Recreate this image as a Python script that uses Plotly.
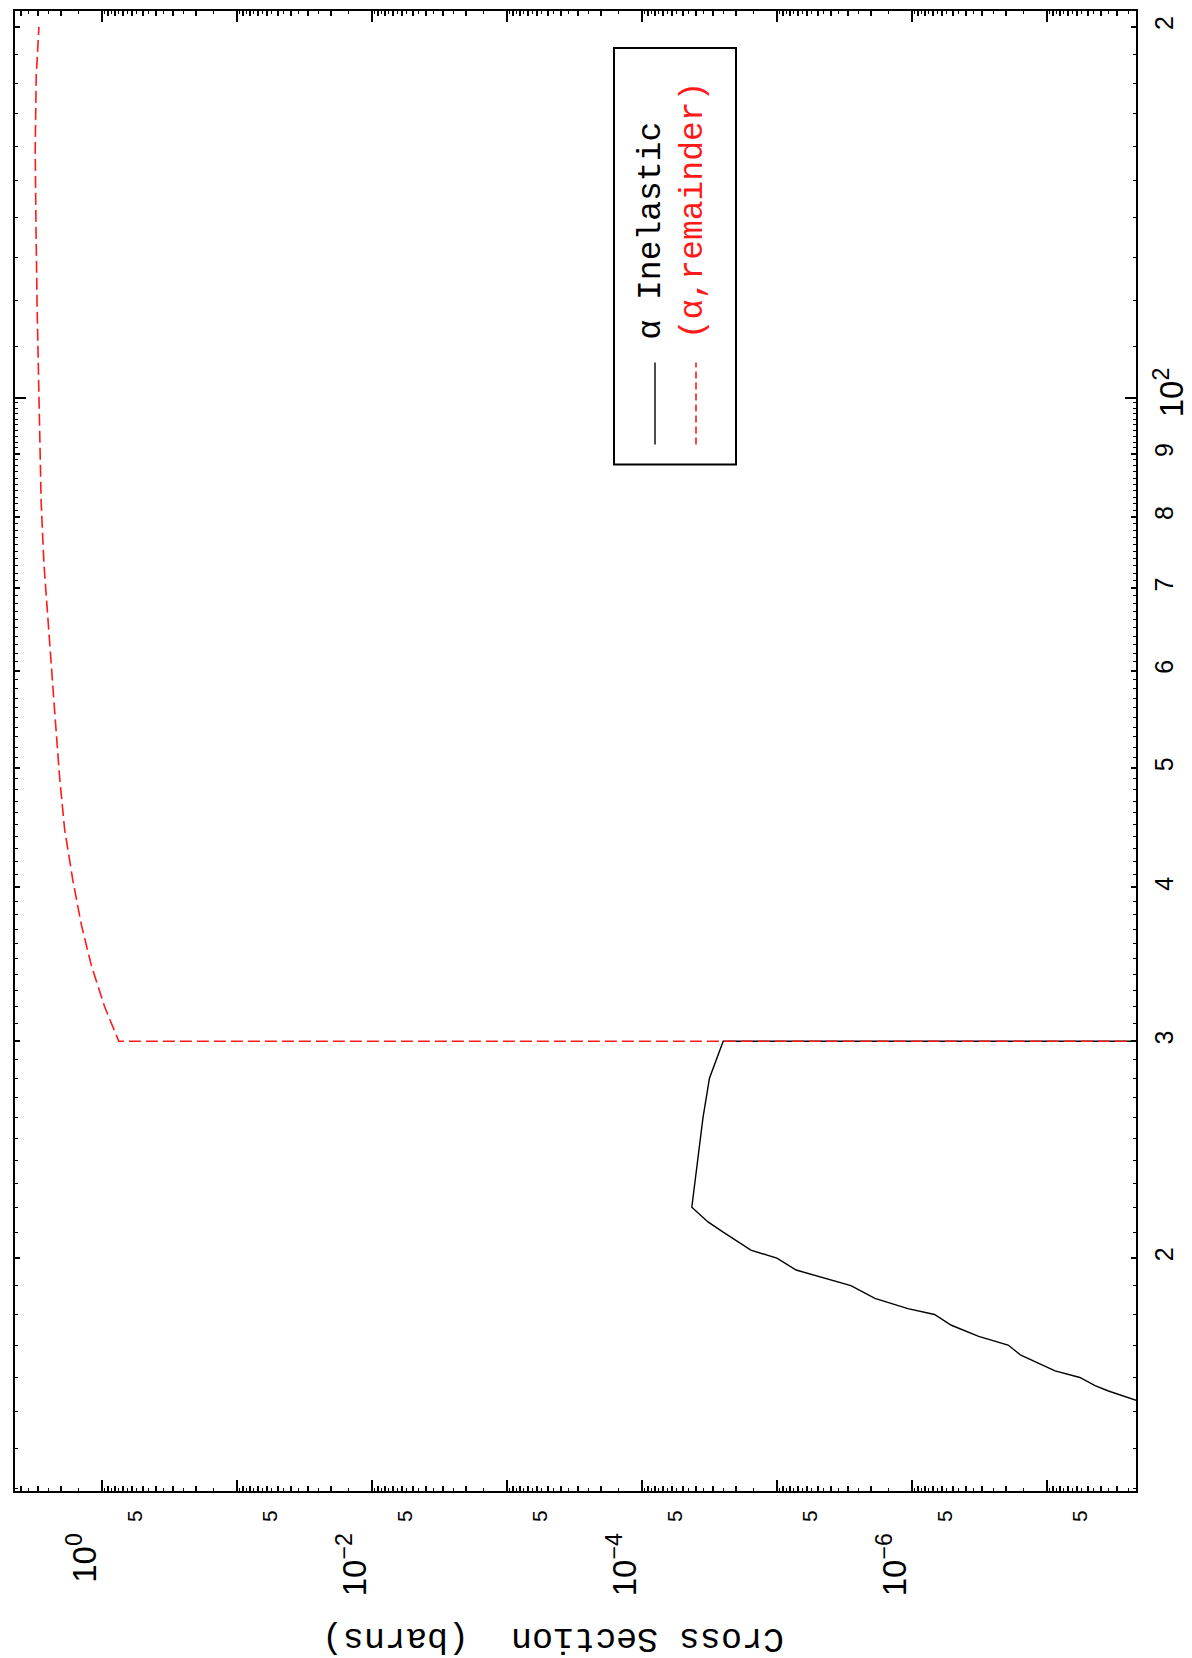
import plotly.graph_objects as go

# ---------------- data ----------------
# alpha inelastic: energy (MeV) and cross section (barns)
inel_energy = [15.0, 15.34, 15.45, 15.6, 15.76, 16.0, 16.2, 16.43, 16.68, 17.0,
               17.28, 17.64, 18.0, 18.2, 18.55, 19.0, 19.16, 19.56, 20.0, 20.3,
               21.0, 21.4, 22.0, 24.0, 26.0, 28.0, 30.0, 30.0]
inel_xs = [1.2e-8, 2.2e-8, 2.6e-8, 3.5e-8, 4.4e-8, 5.7e-8, 8.7e-8, 1.17e-7, 1.56e-7, 1.94e-7,
           3.2e-7, 5.1e-7, 6.8e-7, 1.07e-6, 1.88e-6, 2.83e-6, 3.7e-6, 7.2e-6, 1.0e-5, 1.56e-5,
           2.5e-5, 3.24e-5, 4.27e-5, 3.85e-5, 3.53e-5, 3.16e-5, 2.5e-5, 1e-12]

# (alpha, remainder)
rem_energy = [30.0, 30.0, 32.0, 34.6, 37.3, 40.5, 44.6, 49.2, 55.6, 63.0,
              73.3, 82.2, 101.0, 118.0, 138.0, 159.0, 182.0, 200.0]
rem_xs = [1e-12, 0.75, 0.955, 1.20, 1.42, 1.64, 1.89, 2.06, 2.24, 2.44,
          2.69, 2.82, 2.94, 3.02, 3.08, 3.12, 3.07, 2.93]

# ---------------- ticks ----------------
xs_decades = [1, 1e-1, 1e-2, 1e-3, 1e-4, 1e-5, 1e-6, 1e-7]
xs_decade_text = ["10<sup>0</sup>", "", "10<sup>\u22122</sup>", "", "10<sup>\u22124</sup>", "",
                  "10<sup>\u22126</sup>", ""]
xs_exponents = [0, -1, -2, -3, -4, -5, -6, -7, -8]
xs_int_mant = [2, 3, 4, 5, 6, 7, 8, 9]
xs_half_mant = [1.5, 2.5, 3.5, 4.5, 5.5, 6.5, 7.5, 8.5, 9.5]

x_label_vals, x_label_text = [], []
for e in xs_exponents:
    for m in xs_int_mant:
        x_label_vals.append(m * 10.0 ** e)
        x_label_text.append("5" if m == 5 else "")
x_minor_vals = [m * 10.0 ** e for e in xs_exponents for m in xs_half_mant]

e_label_vals = [20, 30, 40, 50, 60, 70, 80, 90, 200]
e_label_text = ["2", "3", "4", "5", "6", "7", "8", "9", "2"]
e_minor_vals = [v for v in range(13, 100) if v % 10 != 0] + list(range(110, 200, 10))
e_decade_vals = [100]
e_decade_text = ["10<sup>2</sup>"]

X_RANGE = [0.644, -7.66]
Y_RANGE = [1.1119, 2.3139]

fig = go.Figure()
fig.add_trace(go.Scatter(x=inel_xs, y=inel_energy, mode="lines", xaxis="x", yaxis="y",
                         line=dict(color="black", width=1.4), showlegend=False,
                         name="\u03b1 Inelastic"))
fig.add_trace(go.Scatter(x=rem_xs, y=rem_energy, mode="lines", xaxis="x2", yaxis="y2",
                         line=dict(color="#ff1a1a", width=1.6, dash="12px,5px"),
                         showlegend=False, name="(\u03b1,remainder)"))

common = dict(type="log", showgrid=False, zeroline=False, showline=True,
              linecolor="black", linewidth=2, ticks="inside", mirror="ticks",
              tickcolor="black", tickwidth=1.5, tickmode="array")

fig.update_layout(
    width=1192, height=1658,
    margin=dict(l=7, r=64, t=1, b=175),
    paper_bgcolor="white", plot_bgcolor="white",
    showlegend=False,
    xaxis=dict(**common, range=X_RANGE, tickvals=x_label_vals, ticktext=x_label_text,
               ticklen=5, tickangle=-90, ticklabelstandoff=9, ticklabelshift=7,
               tickfont=dict(family="Liberation Sans", size=21, color="black"),
               minor=dict(tickmode="array", tickvals=x_minor_vals, ticks="inside",
                          ticklen=3, tickwidth=1.2, tickcolor="black")),
    xaxis2=dict(**common, range=X_RANGE, overlaying="x", anchor="y", side="bottom",
                tickvals=xs_decades, ticktext=xs_decade_text, ticklen=11, tickangle=-90,
                ticklabelstandoff=27, ticklabelshift=17,
                tickfont=dict(family="Liberation Sans", size=33, color="black")),
    yaxis=dict(**common, range=Y_RANGE, side="right", tickvals=e_label_vals,
               ticktext=e_label_text, ticklen=5, tickangle=-90, ticklabelstandoff=5,
               tickfont=dict(family="Liberation Sans", size=25, color="black"),
               minor=dict(tickmode="array", tickvals=e_minor_vals, ticks="inside",
                          ticklen=3, tickwidth=1.2, tickcolor="black")),
    yaxis2=dict(**common, range=Y_RANGE, overlaying="y", anchor="x", side="right",
                tickvals=e_decade_vals, ticktext=e_decade_text, ticklen=11, tickangle=-90,
                ticklabelstandoff=5,
                tickfont=dict(family="Liberation Sans", size=33, color="black")),
)

# pixel -> paper helpers (plot area: x 7..1128, y 1..1483)
def px(xp):
    return (xp - 7) / 1121.0

def py(yp):
    return (1483 - yp) / 1482.0

mono = "Liberation Mono"
fig.add_annotation(text="Cross Section\u00a0 (barns)", xref="paper", yref="paper",
                   x=px(545), y=py(1630), xanchor="center", yanchor="middle",
                   textangle=180, showarrow=False,
                   font=dict(family=mono, size=35, color="black"))

# legend (rotated with the chart)
fig.add_shape(type="rect", xref="paper", yref="paper", x0=px(606), x1=px(728),
              y0=py(455), y1=py(38), line=dict(color="black", width=2),
              fillcolor="white", layer="above")
fig.add_shape(type="line", xref="paper", yref="paper", x0=px(647), x1=px(647),
              y0=py(435), y1=py(353), line=dict(color="black", width=1.4))
fig.add_shape(type="line", xref="paper", yref="paper", x0=px(688), x1=px(688),
              y0=py(435), y1=py(353), line=dict(color="#ff1a1a", width=1.6, dash="7px,4px"))
fig.add_annotation(text="\u03b1 Inelastic", xref="paper", yref="paper",
                   x=px(644), y=py(332), xanchor="center", yanchor="bottom",
                   textangle=-90, showarrow=False,
                   font=dict(family=mono, size=33, color="black"))
fig.add_annotation(text="(\u03b1,remainder)", xref="paper", yref="paper",
                   x=px(685), y=py(332), xanchor="center", yanchor="bottom",
                   textangle=-90, showarrow=False,
                   font=dict(family=mono, size=33, color="#ff1a1a"))

fig.write_html("out.html")
